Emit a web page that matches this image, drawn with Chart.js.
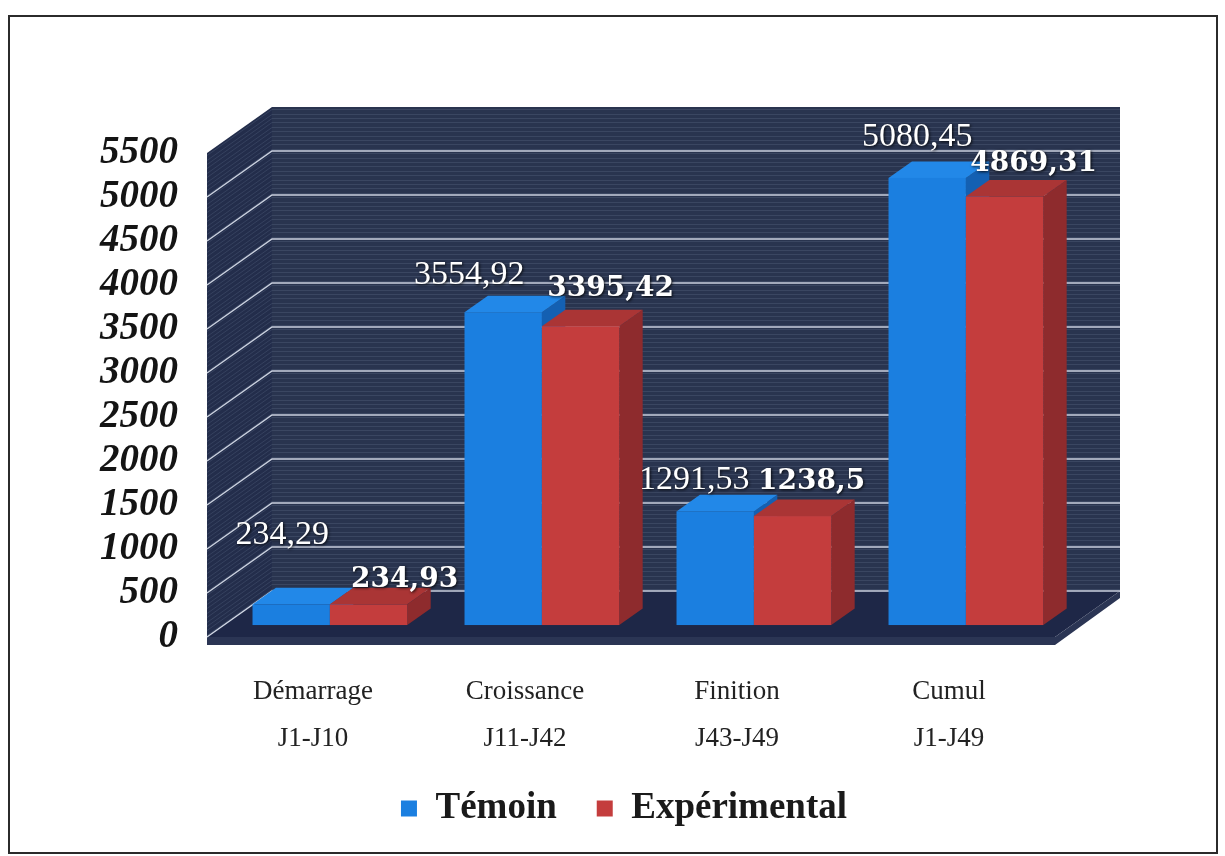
<!DOCTYPE html>
<html>
<head>
<meta charset="utf-8">
<script src="https://cdn.jsdelivr.net/npm/chart.js@4.4.0/dist/chart.umd.min.js"></script>
<style>
  html, body { margin: 0; background: #fff; }
  #frame { position: absolute; left: 8px; top: 15px; width: 1206px; height: 835px; border: 2px solid #2b2b2b; }
  #chart { position: absolute; left: 0; top: 0; }
</style>
</head>
<body>
<div id="frame"></div>
<canvas id="chart" width="1225" height="856"></canvas>
<script>
const categories = [
  ['Démarrage', 'J1-J10'],
  ['Croissance', 'J11-J42'],
  ['Finition', 'J43-J49'],
  ['Cumul', 'J1-J49']
];
const temoin = [234.29, 3554.92, 1291.53, 5080.45];
const experimental = [234.93, 3395.42, 1238.5, 4869.31];
const yMax = 5500;
const yStep = 500;

// depth of the box: front plane -> back wall
const depth = { dx: 65, dy: -46 };
// bars sit between these fractions of the depth
const barDepth = [0.26, 0.62];

const faces = [
  { front: '#1b7fe0', top: '#2288e8', side: '#1460b2' },
  { front: '#c43d3d', top: '#aa3535', side: '#8e2b2d' }
];
const labelFonts = ['34px "Liberation Serif"', 'bold 28px "DejaVu Serif"'];
// where each value label sits, relative to the top of its bar [dx, dy]
const labelOffsets = [
  [[-9, -60], [-34, -28], [-21, -22], [-10, -32]],
  [[36, -17], [30, -30], [19, -27], [29, -26]]
];

function poly(ctx, pts, fill) {
  ctx.beginPath();
  ctx.moveTo(pts[0][0], pts[0][1]);
  for (let i = 1; i < pts.length; i++) ctx.lineTo(pts[i][0], pts[i][1]);
  ctx.closePath();
  ctx.fillStyle = fill;
  ctx.fill();
}

function fmt(v) {
  return String(v).replace('.', ',');
}

const box3d = {
  id: 'box3d',
  beforeDatasetsDraw(chart) {
    const { ctx, chartArea: a, scales: { y } } = chart;
    const dx = depth.dx, dy = depth.dy;
    const w = a.right - a.left;
    ctx.save();

    // walls and floor
    poly(ctx, [[a.left, a.bottom], [a.left, a.top], [a.left + dx, a.top + dy], [a.left + dx, a.bottom + dy]], '#232d4b');
    ctx.fillStyle = '#29344f';
    ctx.fillRect(a.left + dx, a.top + dy, w, a.bottom - a.top);
    poly(ctx, [[a.left, a.bottom], [a.left + dx, a.bottom + dy], [a.right + dx, a.bottom + dy], [a.right, a.bottom]], '#1e2747');
    poly(ctx, [[a.left, a.bottom], [a.right, a.bottom], [a.right + dx, a.bottom + dy], [a.right + dx, a.bottom + dy + 7],
      [a.right, a.bottom + 8], [a.left, a.bottom + 8]], '#2b3554');

    // fine striping of the wall fill
    ctx.lineWidth = 1;
    ctx.strokeStyle = 'rgba(120,135,165,0.22)';
    ctx.beginPath();
    for (let v = 25; v < yMax; v += 50) {
      const py = Math.round(y.getPixelForValue(v)) + 0.5;
      ctx.moveTo(a.left, py);
      ctx.lineTo(a.left + dx, py + dy);
      ctx.lineTo(a.right + dx, py + dy);
    }
    ctx.stroke();

    // gridlines
    ctx.lineWidth = 1.5;
    ctx.strokeStyle = 'rgba(220,226,238,0.9)';
    ctx.beginPath();
    y.ticks.forEach(t => {
      if (t.value >= yMax) return;
      const py = y.getPixelForValue(t.value);
      ctx.moveTo(a.left, py);
      ctx.lineTo(a.left + dx, py + dy);
      ctx.lineTo(a.right + dx, py + dy);
    });
    ctx.stroke();

    // bars, left to right so each hides the side of the one before
    const f0 = barDepth[0], f1 = barDepth[1];
    const bd = dx * (f1 - f0), be = dy * (f1 - f0);
    const metas = chart.data.datasets.map((d, i) => chart.getDatasetMeta(i));
    const labels = [];
    for (let c = 0; c < chart.data.labels.length; c++) {
      metas.forEach((meta, s) => {
        const p = meta.data[c].getProps(['x', 'y', 'base', 'width'], true);
        const L = p.x - p.width / 2 + dx * f0;
        const R = p.x + p.width / 2 + dx * f0;
        const T = p.y + dy * f0;
        const B = p.base + dy * f0;
        const col = faces[s];
        poly(ctx, [[R, B], [R, T], [R + bd, T + be], [R + bd, B + be]], col.side);
        poly(ctx, [[L, T], [L + bd, T + be], [R + bd, T + be], [R, T]], col.top);
        ctx.fillStyle = col.front;
        ctx.fillRect(L, T, R - L, B - T);
        const off = labelOffsets[s][c];
        labels.push({ text: fmt(chart.data.datasets[s].data[c]), x: (L + R) / 2 + off[0], y: T + off[1], font: labelFonts[s] });
      });
    }

    // value labels
    ctx.textAlign = 'center';
    ctx.textBaseline = 'alphabetic';
    ctx.fillStyle = '#ffffff';
    ctx.shadowColor = 'rgba(0,0,0,0.85)';
    ctx.shadowBlur = 3;
    ctx.shadowOffsetX = 1;
    ctx.shadowOffsetY = 1;
    labels.forEach(l => {
      ctx.font = l.font;
      ctx.fillText(l.text, l.x, l.y);
    });
    ctx.restore();
    return false;
  }
};

new Chart(document.getElementById('chart'), {
  type: 'bar',
  data: {
    labels: categories,
    datasets: [
      { label: 'Témoin', data: temoin, backgroundColor: faces[0].front, borderWidth: 0 },
      { label: 'Expérimental', data: experimental, backgroundColor: faces[1].front, borderWidth: 0 }
    ]
  },
  options: {
    responsive: false,
    animation: false,
    devicePixelRatio: 1,
    layout: { padding: { left: 40, right: 17, top: 153, bottom: 19 } },
    datasets: { bar: { categoryPercentage: 0.73, barPercentage: 1 } },
    scales: {
      x: {
        grid: { display: false, drawTicks: false },
        border: { display: false },
        afterFit(s) { s.height = 113; },
        ticks: {
          color: '#222',
          padding: 31,
          maxRotation: 0,
          font: { family: '"Liberation Serif"', size: 27, lineHeight: 1.75 }
        }
      },
      y: {
        min: 0,
        max: yMax,
        grid: { display: false, drawTicks: false },
        border: { display: false },
        afterFit(s) { s.width = 167; },
        ticks: {
          stepSize: yStep,
          autoSkip: false,
          callback: v => String(v),
          color: '#141414',
          padding: 29,
          font: { family: '"Liberation Serif"', size: 39, weight: 'bold', style: 'italic' }
        }
      },
      // empty right axis, keeps room beside the floor's receding edge
      yRight: {
        position: 'right',
        grid: { display: false, drawTicks: false },
        border: { display: false },
        ticks: { display: false },
        afterFit(s) { s.width = 153; }
      }
    },
    plugins: {
      legend: {
        position: 'bottom',
        labels: {
          color: '#1a1a1a',
          boxWidth: 16,
          boxHeight: 16,
          padding: 40,
          font: { family: '"Liberation Serif"', size: 37, weight: 'bold' }
        }
      },
      tooltip: { enabled: false }
    }
  },
  plugins: [box3d]
});
</script>
</body>
</html>
